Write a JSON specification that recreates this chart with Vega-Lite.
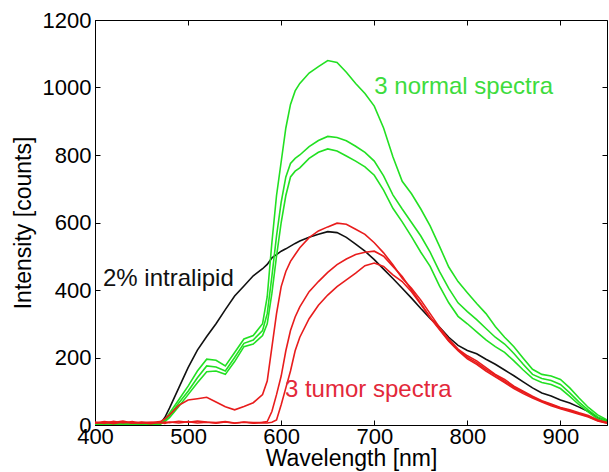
{
  "$schema": "https://vega.github.io/schema/vega-lite/v6.json",
  "width": 512,
  "height": 405,
  "autosize": {"type": "none"},
  "padding": {"left": 95, "top": 20, "right": 2, "bottom": 47},
  "background": "white",
  "config": {
    "view": {"stroke": "black", "strokeWidth": 1},
    "axis": {
      "labelFont": "Liberation Sans",
      "titleFont": "Liberation Sans",
      "labelFontSize": 22,
      "titleFontSize": 23,
      "titleFontWeight": "normal",
      "labelColor": "black",
      "titleColor": "black",
      "domainColor": "black",
      "tickColor": "black",
      "grid": false,
      "tickSize": -5,
      "labelFlush": false,
      "labelOverlap": false,
      "format": "d"
    }
  },
  "datasets": {
    "spectra": [
      {"s":"B","w":400,"v":2},{"s":"B","w":410,"v":3},{"s":"B","w":420,"v":1},{"s":"B","w":430,"v":2},{"s":"B","w":440,"v":3},{"s":"B","w":450,"v":2},{"s":"B","w":460,"v":1},{"s":"B","w":470,"v":3},{"s":"B","w":475,"v":22},{"s":"B","w":480,"v":50},{"s":"B","w":490,"v":110},{"s":"B","w":500,"v":170},{"s":"B","w":510,"v":222},{"s":"B","w":520,"v":262},{"s":"B","w":530,"v":300},{"s":"B","w":540,"v":342},{"s":"B","w":550,"v":382},{"s":"B","w":560,"v":412},{"s":"B","w":570,"v":442},{"s":"B","w":580,"v":463},{"s":"B","w":585,"v":476},{"s":"B","w":590,"v":495},{"s":"B","w":595,"v":505},{"s":"B","w":600,"v":515},{"s":"B","w":605,"v":522},{"s":"B","w":610,"v":530},{"s":"B","w":615,"v":538},{"s":"B","w":620,"v":545},{"s":"B","w":630,"v":556},{"s":"B","w":640,"v":565},{"s":"B","w":650,"v":573},{"s":"B","w":660,"v":570},{"s":"B","w":670,"v":556},{"s":"B","w":680,"v":536},{"s":"B","w":690,"v":515},{"s":"B","w":700,"v":490},{"s":"B","w":710,"v":462},{"s":"B","w":720,"v":434},{"s":"B","w":730,"v":405},{"s":"B","w":740,"v":376},{"s":"B","w":750,"v":345},{"s":"B","w":760,"v":316},{"s":"B","w":770,"v":290},{"s":"B","w":780,"v":260},{"s":"B","w":790,"v":236},{"s":"B","w":800,"v":221},{"s":"B","w":810,"v":211},{"s":"B","w":820,"v":195},{"s":"B","w":830,"v":180},{"s":"B","w":840,"v":163},{"s":"B","w":850,"v":146},{"s":"B","w":860,"v":128},{"s":"B","w":870,"v":110},{"s":"B","w":880,"v":95},{"s":"B","w":890,"v":86},{"s":"B","w":900,"v":74},{"s":"B","w":910,"v":65},{"s":"B","w":920,"v":53},{"s":"B","w":930,"v":40},{"s":"B","w":940,"v":22},{"s":"B","w":950,"v":12},

      {"s":"G1","w":400,"v":3},{"s":"G1","w":410,"v":5},{"s":"G1","w":420,"v":2},{"s":"G1","w":430,"v":4},{"s":"G1","w":440,"v":3},{"s":"G1","w":450,"v":5},{"s":"G1","w":460,"v":2},{"s":"G1","w":470,"v":4},{"s":"G1","w":475,"v":15},{"s":"G1","w":480,"v":35},{"s":"G1","w":490,"v":75},{"s":"G1","w":500,"v":115},{"s":"G1","w":510,"v":160},{"s":"G1","w":520,"v":195},{"s":"G1","w":530,"v":192},{"s":"G1","w":540,"v":175},{"s":"G1","w":550,"v":215},{"s":"G1","w":560,"v":255},{"s":"G1","w":570,"v":265},{"s":"G1","w":580,"v":300},{"s":"G1","w":585,"v":380},{"s":"G1","w":590,"v":540},{"s":"G1","w":595,"v":680},{"s":"G1","w":600,"v":780},{"s":"G1","w":605,"v":880},{"s":"G1","w":610,"v":950},{"s":"G1","w":615,"v":990},{"s":"G1","w":620,"v":1012},{"s":"G1","w":630,"v":1043},{"s":"G1","w":640,"v":1062},{"s":"G1","w":650,"v":1080},{"s":"G1","w":660,"v":1074},{"s":"G1","w":670,"v":1045},{"s":"G1","w":680,"v":1012},{"s":"G1","w":690,"v":982},{"s":"G1","w":700,"v":945},{"s":"G1","w":710,"v":880},{"s":"G1","w":720,"v":795},{"s":"G1","w":730,"v":722},{"s":"G1","w":740,"v":685},{"s":"G1","w":750,"v":640},{"s":"G1","w":760,"v":590},{"s":"G1","w":770,"v":530},{"s":"G1","w":780,"v":468},{"s":"G1","w":790,"v":425},{"s":"G1","w":800,"v":392},{"s":"G1","w":810,"v":360},{"s":"G1","w":820,"v":330},{"s":"G1","w":830,"v":292},{"s":"G1","w":840,"v":260},{"s":"G1","w":850,"v":232},{"s":"G1","w":860,"v":198},{"s":"G1","w":870,"v":165},{"s":"G1","w":880,"v":150},{"s":"G1","w":890,"v":145},{"s":"G1","w":900,"v":135},{"s":"G1","w":910,"v":110},{"s":"G1","w":920,"v":80},{"s":"G1","w":930,"v":52},{"s":"G1","w":940,"v":30},{"s":"G1","w":950,"v":15},

      {"s":"G2","w":400,"v":2},{"s":"G2","w":410,"v":4},{"s":"G2","w":420,"v":3},{"s":"G2","w":430,"v":2},{"s":"G2","w":440,"v":4},{"s":"G2","w":450,"v":3},{"s":"G2","w":460,"v":2},{"s":"G2","w":470,"v":3},{"s":"G2","w":475,"v":12},{"s":"G2","w":480,"v":28},{"s":"G2","w":490,"v":65},{"s":"G2","w":500,"v":100},{"s":"G2","w":510,"v":140},{"s":"G2","w":520,"v":175},{"s":"G2","w":530,"v":172},{"s":"G2","w":540,"v":160},{"s":"G2","w":550,"v":200},{"s":"G2","w":560,"v":242},{"s":"G2","w":570,"v":252},{"s":"G2","w":580,"v":280},{"s":"G2","w":585,"v":330},{"s":"G2","w":590,"v":440},{"s":"G2","w":595,"v":560},{"s":"G2","w":600,"v":660},{"s":"G2","w":605,"v":735},{"s":"G2","w":610,"v":775},{"s":"G2","w":615,"v":790},{"s":"G2","w":620,"v":800},{"s":"G2","w":630,"v":825},{"s":"G2","w":640,"v":843},{"s":"G2","w":650,"v":855},{"s":"G2","w":660,"v":852},{"s":"G2","w":670,"v":842},{"s":"G2","w":680,"v":826},{"s":"G2","w":690,"v":808},{"s":"G2","w":700,"v":782},{"s":"G2","w":710,"v":738},{"s":"G2","w":720,"v":682},{"s":"G2","w":730,"v":640},{"s":"G2","w":740,"v":600},{"s":"G2","w":750,"v":560},{"s":"G2","w":760,"v":512},{"s":"G2","w":770,"v":455},{"s":"G2","w":780,"v":405},{"s":"G2","w":790,"v":362},{"s":"G2","w":800,"v":336},{"s":"G2","w":810,"v":312},{"s":"G2","w":820,"v":286},{"s":"G2","w":830,"v":260},{"s":"G2","w":840,"v":240},{"s":"G2","w":850,"v":212},{"s":"G2","w":860,"v":180},{"s":"G2","w":870,"v":150},{"s":"G2","w":880,"v":138},{"s":"G2","w":890,"v":132},{"s":"G2","w":900,"v":120},{"s":"G2","w":910,"v":95},{"s":"G2","w":920,"v":68},{"s":"G2","w":930,"v":44},{"s":"G2","w":940,"v":24},{"s":"G2","w":950,"v":10},

      {"s":"G3","w":400,"v":1},{"s":"G3","w":410,"v":3},{"s":"G3","w":420,"v":2},{"s":"G3","w":430,"v":3},{"s":"G3","w":440,"v":2},{"s":"G3","w":450,"v":4},{"s":"G3","w":460,"v":2},{"s":"G3","w":470,"v":2},{"s":"G3","w":475,"v":10},{"s":"G3","w":480,"v":22},{"s":"G3","w":490,"v":55},{"s":"G3","w":500,"v":90},{"s":"G3","w":510,"v":125},{"s":"G3","w":520,"v":158},{"s":"G3","w":530,"v":160},{"s":"G3","w":540,"v":150},{"s":"G3","w":550,"v":188},{"s":"G3","w":560,"v":232},{"s":"G3","w":570,"v":240},{"s":"G3","w":580,"v":265},{"s":"G3","w":585,"v":300},{"s":"G3","w":590,"v":390},{"s":"G3","w":595,"v":500},{"s":"G3","w":600,"v":600},{"s":"G3","w":605,"v":680},{"s":"G3","w":610,"v":735},{"s":"G3","w":615,"v":752},{"s":"G3","w":620,"v":762},{"s":"G3","w":630,"v":790},{"s":"G3","w":640,"v":808},{"s":"G3","w":650,"v":818},{"s":"G3","w":660,"v":812},{"s":"G3","w":670,"v":797},{"s":"G3","w":680,"v":782},{"s":"G3","w":690,"v":765},{"s":"G3","w":700,"v":740},{"s":"G3","w":710,"v":696},{"s":"G3","w":720,"v":642},{"s":"G3","w":730,"v":602},{"s":"G3","w":740,"v":558},{"s":"G3","w":750,"v":512},{"s":"G3","w":760,"v":470},{"s":"G3","w":770,"v":412},{"s":"G3","w":780,"v":362},{"s":"G3","w":790,"v":322},{"s":"G3","w":800,"v":300},{"s":"G3","w":810,"v":276},{"s":"G3","w":820,"v":252},{"s":"G3","w":830,"v":232},{"s":"G3","w":840,"v":215},{"s":"G3","w":850,"v":190},{"s":"G3","w":860,"v":163},{"s":"G3","w":870,"v":138},{"s":"G3","w":880,"v":126},{"s":"G3","w":890,"v":120},{"s":"G3","w":900,"v":108},{"s":"G3","w":910,"v":85},{"s":"G3","w":920,"v":60},{"s":"G3","w":930,"v":38},{"s":"G3","w":940,"v":18},{"s":"G3","w":950,"v":8},

      {"s":"R1","w":400,"v":6},{"s":"R1","w":410,"v":10},{"s":"R1","w":420,"v":7},{"s":"R1","w":430,"v":12},{"s":"R1","w":440,"v":6},{"s":"R1","w":450,"v":9},{"s":"R1","w":460,"v":7},{"s":"R1","w":470,"v":10},{"s":"R1","w":475,"v":18},{"s":"R1","w":480,"v":30},{"s":"R1","w":490,"v":58},{"s":"R1","w":500,"v":74},{"s":"R1","w":510,"v":78},{"s":"R1","w":520,"v":82},{"s":"R1","w":530,"v":68},{"s":"R1","w":540,"v":54},{"s":"R1","w":550,"v":45},{"s":"R1","w":560,"v":55},{"s":"R1","w":570,"v":66},{"s":"R1","w":580,"v":90},{"s":"R1","w":585,"v":130},{"s":"R1","w":590,"v":230},{"s":"R1","w":595,"v":330},{"s":"R1","w":600,"v":410},{"s":"R1","w":605,"v":455},{"s":"R1","w":610,"v":485},{"s":"R1","w":615,"v":505},{"s":"R1","w":620,"v":525},{"s":"R1","w":630,"v":555},{"s":"R1","w":640,"v":575},{"s":"R1","w":650,"v":587},{"s":"R1","w":660,"v":598},{"s":"R1","w":670,"v":595},{"s":"R1","w":680,"v":580},{"s":"R1","w":690,"v":565},{"s":"R1","w":700,"v":540},{"s":"R1","w":710,"v":510},{"s":"R1","w":720,"v":475},{"s":"R1","w":730,"v":435},{"s":"R1","w":740,"v":405},{"s":"R1","w":750,"v":370},{"s":"R1","w":760,"v":330},{"s":"R1","w":770,"v":290},{"s":"R1","w":780,"v":255},{"s":"R1","w":790,"v":225},{"s":"R1","w":800,"v":205},{"s":"R1","w":810,"v":190},{"s":"R1","w":820,"v":170},{"s":"R1","w":830,"v":150},{"s":"R1","w":840,"v":135},{"s":"R1","w":850,"v":115},{"s":"R1","w":860,"v":100},{"s":"R1","w":870,"v":85},{"s":"R1","w":880,"v":72},{"s":"R1","w":890,"v":62},{"s":"R1","w":900,"v":52},{"s":"R1","w":910,"v":45},{"s":"R1","w":920,"v":36},{"s":"R1","w":930,"v":28},{"s":"R1","w":940,"v":15},{"s":"R1","w":950,"v":8},

      {"s":"R2","w":400,"v":9},{"s":"R2","w":410,"v":5},{"s":"R2","w":420,"v":11},{"s":"R2","w":430,"v":6},{"s":"R2","w":440,"v":10},{"s":"R2","w":450,"v":5},{"s":"R2","w":460,"v":8},{"s":"R2","w":470,"v":6},{"s":"R2","w":475,"v":9},{"s":"R2","w":480,"v":7},{"s":"R2","w":490,"v":11},{"s":"R2","w":500,"v":8},{"s":"R2","w":510,"v":12},{"s":"R2","w":520,"v":9},{"s":"R2","w":530,"v":7},{"s":"R2","w":540,"v":10},{"s":"R2","w":550,"v":6},{"s":"R2","w":560,"v":9},{"s":"R2","w":570,"v":7},{"s":"R2","w":580,"v":8},{"s":"R2","w":585,"v":10},{"s":"R2","w":590,"v":40},{"s":"R2","w":595,"v":90},{"s":"R2","w":600,"v":145},{"s":"R2","w":605,"v":220},{"s":"R2","w":610,"v":280},{"s":"R2","w":615,"v":320},{"s":"R2","w":620,"v":350},{"s":"R2","w":630,"v":395},{"s":"R2","w":640,"v":425},{"s":"R2","w":650,"v":452},{"s":"R2","w":660,"v":475},{"s":"R2","w":670,"v":492},{"s":"R2","w":680,"v":505},{"s":"R2","w":690,"v":512},{"s":"R2","w":700,"v":515},{"s":"R2","w":710,"v":500},{"s":"R2","w":720,"v":470},{"s":"R2","w":730,"v":440},{"s":"R2","w":740,"v":400},{"s":"R2","w":750,"v":360},{"s":"R2","w":760,"v":320},{"s":"R2","w":770,"v":285},{"s":"R2","w":780,"v":250},{"s":"R2","w":790,"v":222},{"s":"R2","w":800,"v":200},{"s":"R2","w":810,"v":185},{"s":"R2","w":820,"v":165},{"s":"R2","w":830,"v":148},{"s":"R2","w":840,"v":130},{"s":"R2","w":850,"v":112},{"s":"R2","w":860,"v":97},{"s":"R2","w":870,"v":83},{"s":"R2","w":880,"v":70},{"s":"R2","w":890,"v":60},{"s":"R2","w":900,"v":50},{"s":"R2","w":910,"v":43},{"s":"R2","w":920,"v":34},{"s":"R2","w":930,"v":25},{"s":"R2","w":940,"v":13},{"s":"R2","w":950,"v":6},

      {"s":"R3","w":400,"v":5},{"s":"R3","w":410,"v":8},{"s":"R3","w":420,"v":4},{"s":"R3","w":430,"v":9},{"s":"R3","w":440,"v":5},{"s":"R3","w":450,"v":7},{"s":"R3","w":460,"v":4},{"s":"R3","w":470,"v":8},{"s":"R3","w":475,"v":5},{"s":"R3","w":480,"v":9},{"s":"R3","w":490,"v":6},{"s":"R3","w":500,"v":10},{"s":"R3","w":510,"v":6},{"s":"R3","w":520,"v":8},{"s":"R3","w":530,"v":5},{"s":"R3","w":540,"v":9},{"s":"R3","w":550,"v":5},{"s":"R3","w":560,"v":8},{"s":"R3","w":570,"v":5},{"s":"R3","w":580,"v":7},{"s":"R3","w":585,"v":6},{"s":"R3","w":590,"v":8},{"s":"R3","w":595,"v":15},{"s":"R3","w":600,"v":60},{"s":"R3","w":605,"v":110},{"s":"R3","w":610,"v":160},{"s":"R3","w":615,"v":220},{"s":"R3","w":620,"v":260},{"s":"R3","w":630,"v":315},{"s":"R3","w":640,"v":355},{"s":"R3","w":650,"v":385},{"s":"R3","w":660,"v":410},{"s":"R3","w":670,"v":430},{"s":"R3","w":680,"v":450},{"s":"R3","w":690,"v":472},{"s":"R3","w":700,"v":480},{"s":"R3","w":710,"v":470},{"s":"R3","w":720,"v":445},{"s":"R3","w":730,"v":425},{"s":"R3","w":740,"v":395},{"s":"R3","w":750,"v":358},{"s":"R3","w":760,"v":318},{"s":"R3","w":770,"v":283},{"s":"R3","w":780,"v":248},{"s":"R3","w":790,"v":220},{"s":"R3","w":800,"v":196},{"s":"R3","w":810,"v":180},{"s":"R3","w":820,"v":160},{"s":"R3","w":830,"v":143},{"s":"R3","w":840,"v":126},{"s":"R3","w":850,"v":108},{"s":"R3","w":860,"v":93},{"s":"R3","w":870,"v":80},{"s":"R3","w":880,"v":68},{"s":"R3","w":890,"v":57},{"s":"R3","w":900,"v":48},{"s":"R3","w":910,"v":40},{"s":"R3","w":920,"v":32},{"s":"R3","w":930,"v":24},{"s":"R3","w":940,"v":12},{"s":"R3","w":950,"v":5}
    ]
  },
  "layer": [
    {
      "data": {"name": "spectra"},
      "mark": {"type": "line", "strokeWidth": 1.6, "clip": true},
      "encoding": {
        "x": {"field": "w", "type": "quantitative", "scale": {"domain": [400, 950], "nice": false, "zero": false},
              "axis": {"orient": "bottom", "title": "Wavelength [nm]", "values": [400, 500, 600, 700, 800, 900], "labelPadding": 6, "titlePadding": 0}},
        "y": {"field": "v", "type": "quantitative", "scale": {"domain": [0, 1200], "nice": false},
              "axis": {"orient": "left", "title": "Intensity [counts]", "values": [0, 200, 400, 600, 800, 1000, 1200], "labelPadding": 9, "titlePadding": 7}},
        "color": {"field": "s", "type": "nominal", "legend": null,
                  "scale": {"domain": ["B", "G1", "G2", "G3", "R1", "R2", "R3"],
                            "range": ["#111111", "#22e022", "#22e022", "#22e022", "#e81c1c", "#e81c1c", "#e81c1c"]}}
      }
    },
    {
      "data": {"name": "spectra"},
      "mark": {"type": "point", "opacity": 0},
      "encoding": {
        "x": {"field": "w", "type": "quantitative", "scale": {"domain": [400, 950], "nice": false, "zero": false},
              "axis": {"orient": "top", "title": null, "labels": false, "values": [400, 500, 600, 700, 800, 900], "domain": false}},
        "y": {"field": "v", "type": "quantitative", "scale": {"domain": [0, 1200], "nice": false},
              "axis": {"orient": "right", "title": null, "labels": false, "values": [0, 200, 400, 600, 800, 1000, 1200], "domain": false}}
      }
    },
    {
      "data": {"values": [{"label": "3 normal spectra", "w": 700, "v": 982}]},
      "mark": {"type": "text", "align": "left", "baseline": "alphabetic", "font": "Liberation Sans", "fontSize": 24, "color": "#3ddc3d"},
      "encoding": {
        "x": {"field": "w", "type": "quantitative", "axis": null},
        "y": {"field": "v", "type": "quantitative", "axis": null},
        "text": {"field": "label"}
      }
    },
    {
      "data": {"values": [{"label": "2% intralipid", "w": 408.6, "v": 412}]},
      "mark": {"type": "text", "align": "left", "baseline": "alphabetic", "font": "Liberation Sans", "fontSize": 24, "color": "#111111"},
      "encoding": {
        "x": {"field": "w", "type": "quantitative", "axis": null},
        "y": {"field": "v", "type": "quantitative", "axis": null},
        "text": {"field": "label"}
      }
    },
    {
      "data": {"values": [{"label": "3 tumor spectra", "w": 604, "v": 83}]},
      "mark": {"type": "text", "align": "left", "baseline": "alphabetic", "font": "Liberation Sans", "fontSize": 24, "color": "#e3283a"},
      "encoding": {
        "x": {"field": "w", "type": "quantitative", "axis": null},
        "y": {"field": "v", "type": "quantitative", "axis": null},
        "text": {"field": "label"}
      }
    }
  ],
  "resolve": {"axis": {"x": "independent", "y": "independent"}}
}
